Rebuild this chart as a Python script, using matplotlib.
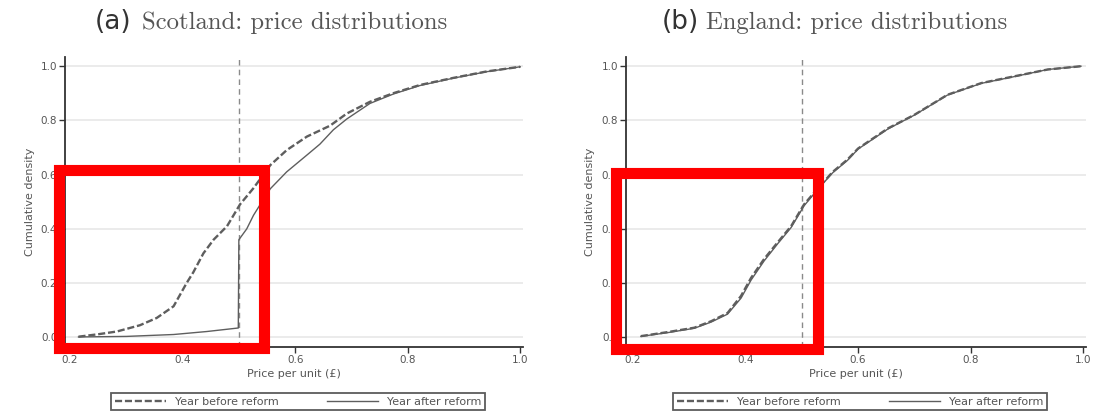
import matplotlib
matplotlib.use("Agg")
import matplotlib.pyplot as plt
from matplotlib.patches import Rectangle

# ---------------- data ----------------
sco_before_x = [0.215, 0.25, 0.283, 0.324, 0.354, 0.384, 0.407, 0.419, 0.437, 0.455, 0.479, 0.502,
                0.526, 0.556, 0.585, 0.621, 0.662, 0.692, 0.733, 0.775, 0.822, 0.881, 0.941, 1.0]
sco_before_y = [0.003, 0.012, 0.022, 0.045, 0.072, 0.115, 0.20, 0.24, 0.31, 0.36, 0.41, 0.49,
                0.55, 0.635, 0.69, 0.74, 0.78, 0.825, 0.868, 0.90, 0.93, 0.956, 0.98, 0.997]
sco_after_x = [0.215, 0.30, 0.384, 0.443, 0.499, 0.5, 0.514, 0.526, 0.538, 0.556, 0.585, 0.621,
               0.644, 0.668, 0.692, 0.733, 0.775, 0.822, 0.881, 0.941, 1.0]
sco_after_y = [0.002, 0.004, 0.011, 0.022, 0.035, 0.36, 0.40, 0.45, 0.49, 0.548, 0.61, 0.672,
               0.712, 0.765, 0.805, 0.862, 0.897, 0.928, 0.955, 0.979, 0.997]
eng_before_x = [0.214, 0.262, 0.309, 0.339, 0.368, 0.392, 0.41, 0.433, 0.457, 0.481, 0.504, 0.528,
                0.555, 0.581, 0.60, 0.653, 0.70, 0.759, 0.819, 0.878, 0.937, 0.996]
eng_before_y = [0.005, 0.02, 0.036, 0.06, 0.09, 0.153, 0.22, 0.289, 0.35, 0.41, 0.49, 0.548,
                0.61, 0.655, 0.696, 0.77, 0.82, 0.894, 0.937, 0.962, 0.987, 0.999]
eng_after_x = eng_before_x
eng_after_y = [0.004, 0.018, 0.034, 0.057, 0.086, 0.145, 0.212, 0.282, 0.345, 0.405, 0.485, 0.545,
               0.607, 0.652, 0.694, 0.768, 0.819, 0.893, 0.936, 0.961, 0.987, 0.999]

min_unit_price = 0.5
x_ticks = [0.2, 0.4, 0.6, 0.8, 1.0]
y_ticks = [0.0, 0.2, 0.4, 0.6, 0.8, 1.0]
panel_tags = ["(a)", "(b)"]
panel_titles = ["Scotland: price distributions", "England: price distributions"]
legend_labels = ["Year before reform", "Year after reform"]

# ---------------- figure ----------------
W, H = 1105, 415
fig = plt.figure(figsize=(W / 100, H / 100), dpi=100)

def fx(px):
    return px / W

def fy(py):
    return (H - py) / H

line_col = "#5e5e5e"
txt_col = "#555555"

panels = [
    dict(left=65, right=523, xlim=(0.191, 1.005), bx=sco_before_x, by=sco_before_y,
         ax_=sco_after_x, ay=sco_after_y, tag_x=95, title_x=142, ylab_x=30,
         leg=(111, 485), box=(59, 264, 169.5, 348)),
    dict(left=626, right=1086, xlim=(0.1876, 1.005), bx=eng_before_x, by=eng_before_y,
         ax_=eng_after_x, ay=eng_after_y, tag_x=662, title_x=706, ylab_x=590,
         leg=(673, 1047), box=(616, 818, 173, 349)),
]

top_px, bot_px = 57, 347
for i, p in enumerate(panels):
    ax = fig.add_axes([fx(p["left"]), fy(bot_px), fx(p["right"] - p["left"]), (bot_px - top_px) / H])
    ax.set_xlim(*p["xlim"])
    ax.set_ylim(-0.035, 1.033)
    for yv in y_ticks:
        ax.axhline(yv, color="#ebebeb", lw=1.4, zorder=0)
    ax.axvline(min_unit_price, color="#8a8a8a", lw=1.0, ls=(0, (4, 3)), zorder=1)
    l1, = ax.plot(p["bx"], p["by"], color=line_col, lw=1.7, ls=(0, (3, 1.2)), zorder=3)
    l2, = ax.plot(p["ax_"], p["ay"], color=line_col, lw=1.0, ls="-", zorder=2)
    for s in ["top", "right"]:
        ax.spines[s].set_visible(False)
    for s in ["left", "bottom"]:
        ax.spines[s].set_color("#333333")
        ax.spines[s].set_linewidth(1.3)
    ax.set_xticks(x_ticks)
    ax.set_yticks(y_ticks)
    ax.set_xticklabels([f"{v:.1f}" for v in x_ticks])
    ax.set_yticklabels([f"{v:.1f}" for v in y_ticks])
    ax.tick_params(axis="both", direction="out", length=4, width=1.0, color="#333333",
                   labelsize=7.5, labelcolor=txt_col, pad=1.5)
    ax.set_xlabel("Price per unit (£)", fontsize=8, color=txt_col)
    ax.xaxis.set_label_coords(0.5, (bot_px - 374) / (bot_px - top_px))
    ax.xaxis.label.set_va("center")
    ax.set_ylabel("Cumulative density", fontsize=8, color=txt_col)
    ax.yaxis.set_label_coords((p["ylab_x"] - p["left"]) / (p["right"] - p["left"]), 0.5)
    ax.yaxis.label.set_va("center")

    # title
    fig.text(fx(p["tag_x"]), fy(29), panel_tags[i], fontsize=19, color="#333333",
             family="DejaVu Sans", ha="left", va="baseline")
    fig.text(fx(p["title_x"]), fy(29), panel_titles[i], fontsize=17.8, color="#555555",
             family="cmr10", ha="left", va="baseline")

    # legend
    x0, x1 = p["leg"]
    leg = ax.legend([l1, l2], legend_labels, ncol=2, mode="expand", loc="center",
                    bbox_to_anchor=(fx(x0), fy(414), fx(x1 - x0), 25 / H),
                    bbox_transform=fig.transFigure, fontsize=8, handlelength=4.6,
                    fancybox=False, frameon=True, borderpad=0.35, handletextpad=0.8,
                    borderaxespad=0)
    leg.get_frame().set_edgecolor("#333333")
    leg.get_frame().set_linewidth(1.3)
    for t in leg.get_texts():
        t.set_color(txt_col)

    # red highlight box
    bx0, bx1, by0, by1 = p["box"]
    rect = Rectangle((fx(bx0), fy(by1)), fx(bx1 - bx0), (by1 - by0) / H,
                     transform=fig.transFigure, fill=False, edgecolor="#ff0000",
                     linewidth=8, joinstyle="miter", zorder=10)
    fig.patches.append(rect)

fig.savefig("out.png", dpi=100)
